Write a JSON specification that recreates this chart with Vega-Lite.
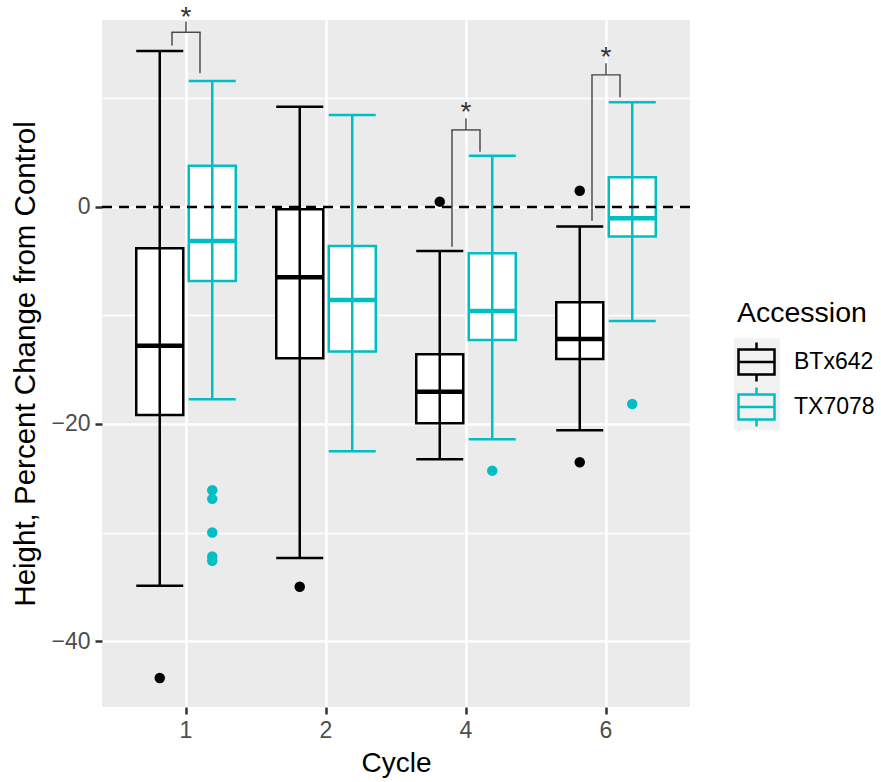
{
  "$schema": "https://vega.github.io/schema/vega-lite/v6.json",
  "width": 588,
  "height": 687,
  "autosize": {"type": "none"},
  "padding": {"left": 102, "top": 20, "right": 191, "bottom": 75},
  "background": "white",
  "config": {
    "font": "Liberation Sans",
    "view": {"fill": "#EBEBEB", "stroke": null}
  },
  "datasets": {
    "boxes": [
      {"Cycle": "1", "Accession": "BTx642", "lower": -34.9, "q1": -19.17, "median": -12.78, "q3": -3.81, "upper": 14.38},
      {"Cycle": "1", "Accession": "TX7078", "lower": -17.73, "q1": -6.82, "median": -3.13, "q3": 3.81, "upper": 11.61},
      {"Cycle": "2", "Accession": "BTx642", "lower": -32.35, "q1": -13.95, "median": -6.48, "q3": -0.2, "upper": 9.24},
      {"Cycle": "2", "Accession": "TX7078", "lower": -22.52, "q1": -13.33, "median": -8.57, "q3": -3.59, "upper": 8.48},
      {"Cycle": "4", "Accession": "BTx642", "lower": -23.26, "q1": -19.94, "median": -17.02, "q3": -13.58, "upper": -4.06},
      {"Cycle": "4", "Accession": "TX7078", "lower": -21.41, "q1": -12.26, "median": -9.59, "q3": -4.27, "upper": 4.73},
      {"Cycle": "6", "Accession": "BTx642", "lower": -20.58, "q1": -14.0, "median": -12.17, "q3": -8.79, "upper": -1.81},
      {"Cycle": "6", "Accession": "TX7078", "lower": -10.51, "q1": -2.73, "median": -1.04, "q3": 2.74, "upper": 9.65}
    ],
    "outliers": [
      {"Cycle": "1", "Accession": "BTx642", "value": -43.4},
      {"Cycle": "1", "Accession": "TX7078", "value": -26.1},
      {"Cycle": "1", "Accession": "TX7078", "value": -26.9},
      {"Cycle": "1", "Accession": "TX7078", "value": -30.0},
      {"Cycle": "1", "Accession": "TX7078", "value": -32.2},
      {"Cycle": "1", "Accession": "TX7078", "value": -32.6},
      {"Cycle": "2", "Accession": "BTx642", "value": -35.0},
      {"Cycle": "4", "Accession": "BTx642", "value": 0.49},
      {"Cycle": "4", "Accession": "TX7078", "value": -24.3},
      {"Cycle": "6", "Accession": "BTx642", "value": 1.5},
      {"Cycle": "6", "Accession": "BTx642", "value": -23.53},
      {"Cycle": "6", "Accession": "TX7078", "value": -18.16}
    ],
    "sig": [
      {"Cycle": "1", "top": 16.1, "left": 14.87, "right": 12.32, "stem": 17.1, "star": 17.9, "label": "*"},
      {"Cycle": "4", "top": 7.1, "left": -3.66, "right": 5.1, "stem": 8.18, "star": 9.12, "label": "*"},
      {"Cycle": "6", "top": 12.17, "left": -1.26, "right": 10.1, "stem": 13.24, "star": 14.2, "label": "*"}
    ]
  },
  "layer": [
    {
      "data": {"name": "boxes"},
      "mark": {"type": "point", "filled": true, "fill": "#F2F2F2", "opacity": 0, "size": 1},
      "encoding": {
        "x": {
          "field": "Cycle", "type": "nominal", "title": "Cycle",
          "scale": {"type": "band", "domain": ["1", "2", "4", "6"], "paddingInner": 0, "paddingOuter": 0.1},
          "axis": {
            "title": "Cycle", "titleFontSize": 28, "titleColor": "black", "titleFontWeight": "normal", "titlePadding": 7,
            "labelFontSize": 23, "labelColor": "#4D4D4D", "labelPadding": 5, "labelAngle": 0,
            "tickColor": "#333333", "tickSize": 7, "tickWidth": 2.5, "domain": false,
            "grid": true, "gridColor": "white", "gridWidth": 2.5, "bandPosition": 0.5
          }
        },
        "xOffset": {"field": "Accession", "type": "nominal", "scale": {"type": "band", "domain": ["BTx642", "TX7078"], "paddingInner": 0, "paddingOuter": 0.3333}},
        "y": {
          "field": "median", "type": "quantitative", "title": "Height, Percent Change from Control",
          "scale": {"domain": [-46.08, 17.23], "nice": false, "zero": false},
          "axis": {
            "title": "Height, Percent Change from Control",
            "values": [-40, -30, -20, -10, 0, 10],
            "labelExpr": "datum.value % 20 === 0 ? datum.label : ''",
            "labelOverlap": false,
            "tickColor": {"condition": {"test": "datum.value % 20 !== 0", "value": "transparent"}, "value": "#333333"},
            "gridWidth": {"condition": {"test": "datum.value % 20 !== 0", "value": 1.3}, "value": 2.5},
            "gridColor": "white", "grid": true, "domain": false,
            "tickSize": 7, "tickWidth": 2.5,
            "labelFontSize": 23, "labelColor": "#4D4D4D", "labelPadding": 5,
            "titleFontSize": 29.5, "titleFontWeight": "normal", "titleColor": "black", "titlePadding": 10
          }
        },
        "shape": {
          "field": "Accession", "type": "nominal",
          "scale": {"range": ["square", "square"]},
          "legend": {
            "orient": "none", "legendX": 632, "legendY": 318, "zindex": 1,
            "title": null,
            "labelExpr": "''", "labelFontSize": 1, "labelColor": "transparent",
            "symbolType": "square", "symbolSize": 2116, "symbolStrokeWidth": 0,
            "symbolFillColor": "#F2F2F2", "symbolStrokeColor": "transparent", "symbolOpacity": 1,
            "rowPadding": 0
          }
        }
      }
    },
    {
      "data": {"name": "boxes"},
      "transform": [{"filter": "datum.Accession === 'BTx642'"}],
      "mark": {"type": "bar", "fill": "white", "stroke": "#000000", "strokeWidth": 2.5, "width": 47, "opacity": 1},
      "encoding": {
        "x": {"field": "Cycle", "type": "nominal"},
        "xOffset": {"field": "Accession", "type": "nominal"},
        "y": {"field": "q1", "type": "quantitative"},
        "y2": {"field": "q3"}
      }
    },
    {
      "data": {"name": "boxes"},
      "transform": [{"filter": "datum.Accession === 'TX7078'"}],
      "mark": {"type": "bar", "fill": "white", "stroke": "#00BFC4", "strokeWidth": 2.5, "width": 47, "opacity": 1},
      "encoding": {
        "x": {"field": "Cycle", "type": "nominal"},
        "xOffset": {"field": "Accession", "type": "nominal"},
        "y": {"field": "q1", "type": "quantitative"},
        "y2": {"field": "q3"}
      }
    },
    {
      "data": {"name": "boxes"},
      "mark": {"type": "rule", "strokeWidth": 2.5, "opacity": 1},
      "encoding": {
        "x": {"field": "Cycle", "type": "nominal"},
        "xOffset": {"field": "Accession", "type": "nominal"},
        "y": {"field": "lower", "type": "quantitative"},
        "y2": {"field": "upper"},
        "stroke": {
          "field": "Accession", "type": "nominal",
          "scale": {"domain": ["BTx642", "TX7078"], "range": ["#000000", "#00BFC4"]},
          "legend": {
            "orient": "none", "legendX": 635, "legendY": 279, "zindex": 2,
            "title": "Accession", "titleFontSize": 28.5, "titleColor": "black", "titleFontWeight": "normal", "titlePadding": 15,
            "labelFontSize": 23, "labelColor": "black", "labelOffset": 18,
            "symbolType": "M-1.07,-0.694H1.07 M1,-0.694V0.694 M1.07,0.694H-1.07 M-1,0.694V-0.694 M-1,0H1 M0,-0.694V-1.083 M0,0.694V1.083",
            "symbolSize": 1296, "symbolStrokeWidth": 2.5, "symbolFillColor": "transparent",
            "rowPadding": -4
          }
        }
      }
    },
    {
      "data": {"name": "boxes"},
      "mark": {"type": "tick", "orient": "horizontal", "size": 47, "thickness": 2.5, "opacity": 1},
      "encoding": {
        "x": {"field": "Cycle", "type": "nominal"},
        "xOffset": {"field": "Accession", "type": "nominal"},
        "y": {"field": "upper", "type": "quantitative"},
        "color": {"field": "Accession", "type": "nominal", "scale": {"domain": ["BTx642", "TX7078"], "range": ["#000000", "#00BFC4"]}, "legend": null}
      }
    },
    {
      "data": {"name": "boxes"},
      "mark": {"type": "tick", "orient": "horizontal", "size": 47, "thickness": 2.5, "opacity": 1},
      "encoding": {
        "x": {"field": "Cycle", "type": "nominal"},
        "xOffset": {"field": "Accession", "type": "nominal"},
        "y": {"field": "lower", "type": "quantitative"},
        "color": {"field": "Accession", "type": "nominal", "legend": null}
      }
    },
    {
      "data": {"name": "boxes"},
      "mark": {"type": "tick", "orient": "horizontal", "size": 47, "thickness": 4.5, "opacity": 1},
      "encoding": {
        "x": {"field": "Cycle", "type": "nominal"},
        "xOffset": {"field": "Accession", "type": "nominal"},
        "y": {"field": "median", "type": "quantitative"},
        "color": {"field": "Accession", "type": "nominal", "legend": null}
      }
    },
    {
      "data": {"name": "outliers"},
      "mark": {"type": "circle", "size": 110, "opacity": 1},
      "encoding": {
        "x": {"field": "Cycle", "type": "nominal"},
        "xOffset": {"field": "Accession", "type": "nominal"},
        "y": {"field": "value", "type": "quantitative"},
        "color": {"field": "Accession", "type": "nominal", "legend": null}
      }
    },
    {
      "data": {"values": [{"ref": 0}]},
      "mark": {"type": "rule", "color": "black", "strokeWidth": 2.5, "strokeDash": [10, 7]},
      "encoding": {
        "y": {"field": "ref", "type": "quantitative"}
      }
    },
    {
      "data": {"name": "sig"},
      "mark": {"type": "rule", "color": "#444444", "strokeWidth": 1.4},
      "encoding": {
        "x": {"field": "Cycle", "type": "nominal", "bandPosition": 0.4},
        "y": {"field": "left", "type": "quantitative"},
        "y2": {"field": "top"}
      }
    },
    {
      "data": {"name": "sig"},
      "mark": {"type": "rule", "color": "#444444", "strokeWidth": 1.4},
      "encoding": {
        "x": {"field": "Cycle", "type": "nominal", "bandPosition": 0.6},
        "y": {"field": "right", "type": "quantitative"},
        "y2": {"field": "top"}
      }
    },
    {
      "data": {"name": "sig"},
      "mark": {"type": "rule", "color": "#444444", "strokeWidth": 1.4},
      "encoding": {
        "x": {"field": "Cycle", "type": "nominal", "bandPosition": 0.5},
        "y": {"field": "top", "type": "quantitative"},
        "y2": {"field": "stem"}
      }
    },
    {
      "data": {"name": "sig"},
      "mark": {"type": "tick", "orient": "horizontal", "size": 29.4, "thickness": 1.4, "color": "#444444", "opacity": 1},
      "encoding": {
        "x": {"field": "Cycle", "type": "nominal"},
        "y": {"field": "top", "type": "quantitative"}
      }
    },
    {
      "data": {"name": "sig"},
      "mark": {"type": "text", "fontSize": 28, "color": "#333333", "baseline": "middle", "dy": 5},
      "encoding": {
        "x": {"field": "Cycle", "type": "nominal"},
        "y": {"field": "star", "type": "quantitative"},
        "text": {"field": "label"}
      }
    }
  ]
}
